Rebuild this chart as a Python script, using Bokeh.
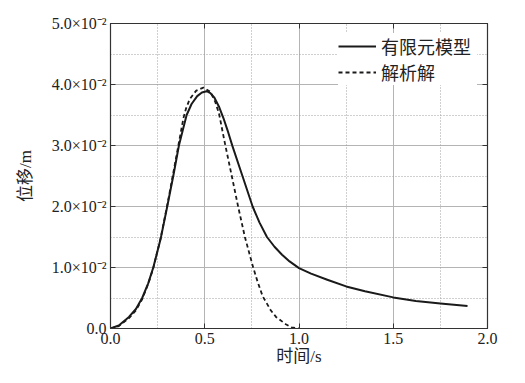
from bokeh.plotting import figure
from bokeh.models import (Range1d, LinearAxis, FixedTicker, CustomJSTickFormatter,
                          Legend, LegendItem, ColumnDataSource, Grid)
from bokeh.embed import file_html
from bokeh.resources import INLINE

# FEM (solid) curve
fem_t = [0.0, 0.044, 0.098, 0.135, 0.168, 0.20, 0.227, 0.266, 0.301, 0.333, 0.363,
         0.385, 0.404, 0.43, 0.46, 0.485, 0.51, 0.53, 0.55, 0.575, 0.599, 0.625,
         0.647, 0.70, 0.754, 0.79, 0.83, 0.87, 0.91, 0.95, 1.0, 1.064, 1.15, 1.25,
         1.35, 1.5, 1.62, 1.75, 1.894]
fem_y = [0.0, 0.0005, 0.0019, 0.0032, 0.0050, 0.0074, 0.0100, 0.0147, 0.0200, 0.0250,
         0.0300, 0.0327, 0.0350, 0.0368, 0.0381, 0.0387, 0.0389, 0.0386, 0.0379,
         0.0364, 0.0345, 0.0321, 0.0299, 0.0250, 0.0200, 0.0174, 0.0150, 0.0134,
         0.0121, 0.0110, 0.0099, 0.0090, 0.0080, 0.0069, 0.0061, 0.0051, 0.0045,
         0.0041, 0.0037]

# analytical (dashed) curve
ana_t = [0.0, 0.044, 0.098, 0.135, 0.168, 0.20, 0.227, 0.266, 0.301, 0.333, 0.36,
         0.387, 0.40, 0.42, 0.455, 0.493, 0.53, 0.555, 0.576, 0.606, 0.642, 0.677,
         0.713, 0.757, 0.78, 0.807, 0.85, 0.878, 0.93, 0.96, 1.0]
ana_y = [0.0, 0.0004, 0.0017, 0.0030, 0.0048, 0.0073, 0.0099, 0.0148, 0.0202, 0.0255,
         0.0300, 0.0345, 0.0360, 0.0376, 0.0390, 0.0395, 0.0388, 0.0372, 0.0352,
         0.0305, 0.0252, 0.0200, 0.0150, 0.0100, 0.0077, 0.0053, 0.0030, 0.0019,
         0.0007, 0.0002, 0.0]

x_ticks = [0.0, 0.5, 1.0, 1.5, 2.0]
x_minor = [0.25, 0.75, 1.25, 1.75]
y_ticks = [0.0, 0.01, 0.02, 0.03, 0.04, 0.05]
y_minor = [0.005, 0.015, 0.025, 0.035, 0.045]

legend_labels = ["有限元模型", "解析解"]
x_label = "时间/s"
y_label = "位移/m"

SERIF = "Liberation Serif"
MIXED = "'Liberation Serif', 'Noto Sans CJK SC'"
CJK = "Noto Sans CJK SC"

p = figure(width=517, height=375, output_backend="svg", toolbar_location=None,
           x_range=Range1d(0, 2.0), y_range=Range1d(0, 0.05),
           min_border_left=110, min_border_right=30, min_border_top=23,
           min_border_bottom=47, x_axis_location=None, y_axis_location=None)
p.outline_line_color = "#333333"
p.outline_line_width = 1.2

fmt_y = CustomJSTickFormatter(code="""
if (Math.abs(tick) < 1e-9) return "0.0";
return (tick*100).toFixed(1) + "\u00d710\u207b\u00b2";
""")
fmt_x = CustomJSTickFormatter(code="return tick.toFixed(1);")

def style_axis(ax, labels=True):
    ax.major_tick_in = 5
    ax.major_tick_out = 0
    ax.minor_tick_in = 0
    ax.minor_tick_out = 0
    ax.axis_line_color = "#333333"
    ax.major_tick_line_color = "#333333"
    if not labels:
        ax.major_label_text_font_size = "0px"
        ax.major_label_text_alpha = 0

xb = LinearAxis(ticker=FixedTicker(ticks=x_ticks), formatter=fmt_x, axis_label=x_label)
yl = LinearAxis(ticker=FixedTicker(ticks=y_ticks), formatter=fmt_y, axis_label=y_label)
xt = LinearAxis(ticker=FixedTicker(ticks=x_ticks))
yr = LinearAxis(ticker=FixedTicker(ticks=y_ticks))
for ax in (xb, yl):
    style_axis(ax)
    ax.major_label_text_font = SERIF
    ax.major_label_text_font_size = "16px"
    ax.major_label_text_color = "#222222"
    ax.axis_label_text_font = MIXED
    ax.axis_label_text_font_size = "17px"
    ax.axis_label_text_font_style = "normal"
    ax.axis_label_text_color = "#222222"
xb.major_label_standoff = 4
xb.axis_label_standoff = 0
yl.major_label_standoff = 4
yl.axis_label_standoff = 14
style_axis(xt, False)
style_axis(yr, False)
p.add_layout(xb, "below")
p.add_layout(yl, "left")
p.add_layout(xt, "above")
p.add_layout(yr, "right")

# grids
p.xgrid.ticker = FixedTicker(ticks=x_ticks)
p.ygrid.ticker = FixedTicker(ticks=y_ticks)
for g in (p.xgrid, p.ygrid):
    g.grid_line_color = "#b4b4b4"
    g.grid_line_width = 1
p.add_layout(Grid(dimension=0, ticker=FixedTicker(ticks=x_minor), grid_line_color="#a0a0a0",
                  grid_line_dash="1 2", grid_line_width=1))
p.add_layout(Grid(dimension=1, ticker=FixedTicker(ticks=y_minor), grid_line_color="#a0a0a0",
                  grid_line_dash="1 2", grid_line_width=1))

src_fem = ColumnDataSource(dict(t=fem_t, y=fem_y))
src_ana = ColumnDataSource(dict(t=ana_t, y=ana_y))
r1 = p.line("t", "y", source=src_fem, line_color="#1a1a1a", line_width=2,
            line_join="round")
r2 = p.line("t", "y", source=src_ana, line_color="#1a1a1a", line_width=1.8,
            line_dash="4 3", line_join="round")

legend = Legend(items=[LegendItem(label=legend_labels[0], renderers=[r1]),
                       LegendItem(label=legend_labels[1], renderers=[r2])],
                location="top_right", border_line_color=None,
                background_fill_color="white", background_fill_alpha=1,
                label_text_font=CJK, label_text_font_size="18px",
                label_text_color="#222222", glyph_width=38, spacing=0,
                margin=10, padding=4, label_standoff=5, label_width=96)
p.add_layout(legend)

open("out.html", "w").write(file_html(p, INLINE))
